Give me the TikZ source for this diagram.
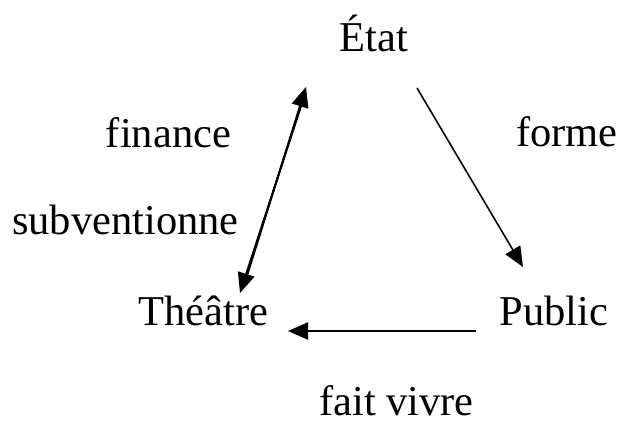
\documentclass[tikz,border=0pt]{standalone}
\usepackage{fontspec}
\setmainfont{Liberation Serif}
\usetikzlibrary{arrows.meta}
\begin{document}
\begin{tikzpicture}[x=1pt,y=-1pt,
  lbl/.style={inner sep=0pt,anchor=base,font=\fontsize{42.5}{50}\selectfont},
  arr/.style={draw=black,line width=2pt,-{Triangle[length=20pt,width=17pt]}},
  thinarr/.style={draw=black,line width=1.6pt,-{Triangle[length=20pt,width=17pt]}}]
\useasboundingbox (0,0) rectangle (621,421);
\node[lbl] (etat) at (374,51) {État};
\node[lbl] (finance) at (168.5,147) {finance};
\node[lbl] (forme) at (567,146) {forme};
\node[lbl] (subv) at (125.5,234) {subventionne};
\node[lbl] (theatre) at (203.5,325) {Théâtre};
\node[lbl] (public) at (554,325) {Public};
\node[lbl,text depth=0pt] (fait) at (396.5,415) {fait vivre};
\coordinate (upS) at (245,282);
\coordinate (upE) at (306,87);
\coordinate (dnS) at (303,100);
\coordinate (dnE) at (240,293);
\coordinate (rS) at (417,88);
\coordinate (rE) at (523,267);
\coordinate (bS) at (476,331);
\coordinate (bE) at (288,331);
\draw[arr] (upS) -- (upE);
\draw[arr] (dnS) -- (dnE);
\draw[thinarr] (rS) -- (rE);
\draw[arr] (bS) -- (bE);
\end{tikzpicture}
\end{document}
